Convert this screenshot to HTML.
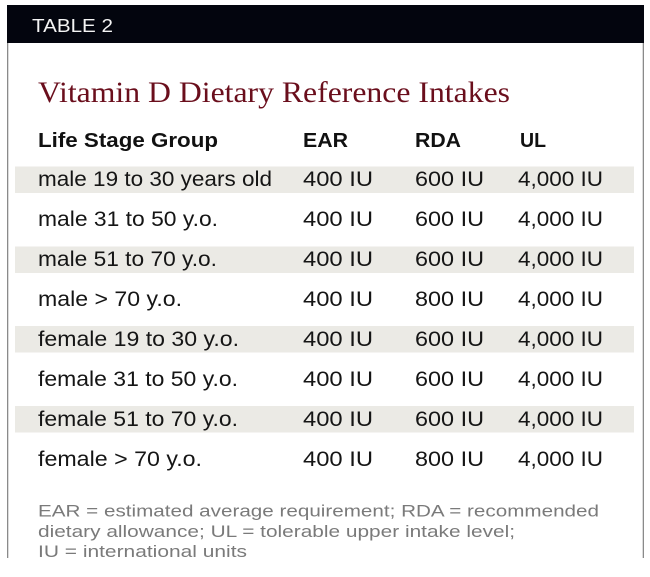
<!DOCTYPE html>
<html>
<head>
<meta charset="utf-8">
<style>
  html, body { margin:0; padding:0; background:#fff; }
  svg { display:block; }
  .sans { font-family: "Liberation Sans", "DejaVu Sans", sans-serif; }
  .serif { font-family: "Liberation Serif", "DejaVu Serif", serif; }
</style>
</head>
<body>
<svg width="650" height="577" viewBox="0 0 650 577" xmlns="http://www.w3.org/2000/svg">
  <defs>
    <clipPath id="c"><rect x="0" y="0" width="650" height="558"/></clipPath>
  </defs>
  <rect x="0" y="0" width="650" height="577" fill="#fff"/>
  <g clip-path="url(#c)">
    <!-- borders -->
    <rect x="7" y="5" width="1.3" height="553" fill="#8a8a8a"/>
    <rect x="642.7" y="5" width="1.3" height="553" fill="#8a8a8a"/>
    <!-- header bar -->
    <rect x="7" y="5" width="637" height="38" fill="#03050e"/>
    <text class="sans" x="32" y="32" font-size="18" fill="#f4f4f4" textLength="81" lengthAdjust="spacingAndGlyphs">TABLE 2</text>

    <!-- title -->
    <text class="serif" x="38" y="102" font-size="30" fill="#6a0e1c" textLength="472" lengthAdjust="spacingAndGlyphs">Vitamin D Dietary Reference Intakes</text>

    <!-- column headers -->
    <g class="sans" font-size="20" font-weight="bold" fill="#111">
      <text x="38" y="147" textLength="180" lengthAdjust="spacingAndGlyphs">Life Stage Group</text>
      <text x="303" y="147" textLength="45" lengthAdjust="spacingAndGlyphs">EAR</text>
      <text x="415" y="147" textLength="46" lengthAdjust="spacingAndGlyphs">RDA</text>
      <text x="520" y="147" textLength="26" lengthAdjust="spacingAndGlyphs">UL</text>
    </g>

    <!-- bands -->
    <g fill="#ebeae5">
      <rect x="15" y="166.5" width="619" height="26.5"/>
      <rect x="15" y="246.5" width="619" height="26.5"/>
      <rect x="15" y="326" width="619" height="26.5"/>
      <rect x="15" y="406" width="619" height="26.5"/>
    </g>

    <!-- rows -->
    <g class="sans" font-size="21" fill="#151515">
      <text x="38" y="186" textLength="234" lengthAdjust="spacingAndGlyphs">male 19 to 30 years old</text>
      <text x="303" y="186" textLength="70" lengthAdjust="spacingAndGlyphs">400 IU</text>
      <text x="415" y="186" textLength="69" lengthAdjust="spacingAndGlyphs">600 IU</text>
      <text x="518" y="186" textLength="85" lengthAdjust="spacingAndGlyphs">4,000 IU</text>

      <text x="38" y="226" textLength="180" lengthAdjust="spacingAndGlyphs">male 31 to 50 y.o.</text>
      <text x="303" y="226" textLength="70" lengthAdjust="spacingAndGlyphs">400 IU</text>
      <text x="415" y="226" textLength="69" lengthAdjust="spacingAndGlyphs">600 IU</text>
      <text x="518" y="226" textLength="85" lengthAdjust="spacingAndGlyphs">4,000 IU</text>

      <text x="38" y="266" textLength="179" lengthAdjust="spacingAndGlyphs">male 51 to 70 y.o.</text>
      <text x="303" y="266" textLength="70" lengthAdjust="spacingAndGlyphs">400 IU</text>
      <text x="415" y="266" textLength="69" lengthAdjust="spacingAndGlyphs">600 IU</text>
      <text x="518" y="266" textLength="85" lengthAdjust="spacingAndGlyphs">4,000 IU</text>

      <text x="38" y="306" textLength="144" lengthAdjust="spacingAndGlyphs">male &gt; 70 y.o.</text>
      <text x="303" y="306" textLength="70" lengthAdjust="spacingAndGlyphs">400 IU</text>
      <text x="415" y="306" textLength="69" lengthAdjust="spacingAndGlyphs">800 IU</text>
      <text x="518" y="306" textLength="85" lengthAdjust="spacingAndGlyphs">4,000 IU</text>

      <text x="38" y="346" textLength="201" lengthAdjust="spacingAndGlyphs">female 19 to 30 y.o.</text>
      <text x="303" y="346" textLength="70" lengthAdjust="spacingAndGlyphs">400 IU</text>
      <text x="415" y="346" textLength="69" lengthAdjust="spacingAndGlyphs">600 IU</text>
      <text x="518" y="346" textLength="85" lengthAdjust="spacingAndGlyphs">4,000 IU</text>

      <text x="38" y="386" textLength="200" lengthAdjust="spacingAndGlyphs">female 31 to 50 y.o.</text>
      <text x="303" y="386" textLength="70" lengthAdjust="spacingAndGlyphs">400 IU</text>
      <text x="415" y="386" textLength="69" lengthAdjust="spacingAndGlyphs">600 IU</text>
      <text x="518" y="386" textLength="85" lengthAdjust="spacingAndGlyphs">4,000 IU</text>

      <text x="38" y="426" textLength="200" lengthAdjust="spacingAndGlyphs">female 51 to 70 y.o.</text>
      <text x="303" y="426" textLength="70" lengthAdjust="spacingAndGlyphs">400 IU</text>
      <text x="415" y="426" textLength="69" lengthAdjust="spacingAndGlyphs">600 IU</text>
      <text x="518" y="426" textLength="85" lengthAdjust="spacingAndGlyphs">4,000 IU</text>

      <text x="38" y="466" textLength="164" lengthAdjust="spacingAndGlyphs">female &gt; 70 y.o.</text>
      <text x="303" y="466" textLength="70" lengthAdjust="spacingAndGlyphs">400 IU</text>
      <text x="415" y="466" textLength="69" lengthAdjust="spacingAndGlyphs">800 IU</text>
      <text x="518" y="466" textLength="85" lengthAdjust="spacingAndGlyphs">4,000 IU</text>
    </g>

    <!-- footnote -->
    <g class="sans" font-size="17" fill="#7a7a7a">
      <text x="38" y="516.5" textLength="561" lengthAdjust="spacingAndGlyphs">EAR = estimated average requirement; RDA = recommended</text>
      <text x="38" y="537" textLength="477" lengthAdjust="spacingAndGlyphs">dietary allowance; UL = tolerable upper intake level;</text>
      <text x="38" y="557" textLength="209" lengthAdjust="spacingAndGlyphs">IU = international units</text>
    </g>
  </g>
</svg>
</body>
</html>
